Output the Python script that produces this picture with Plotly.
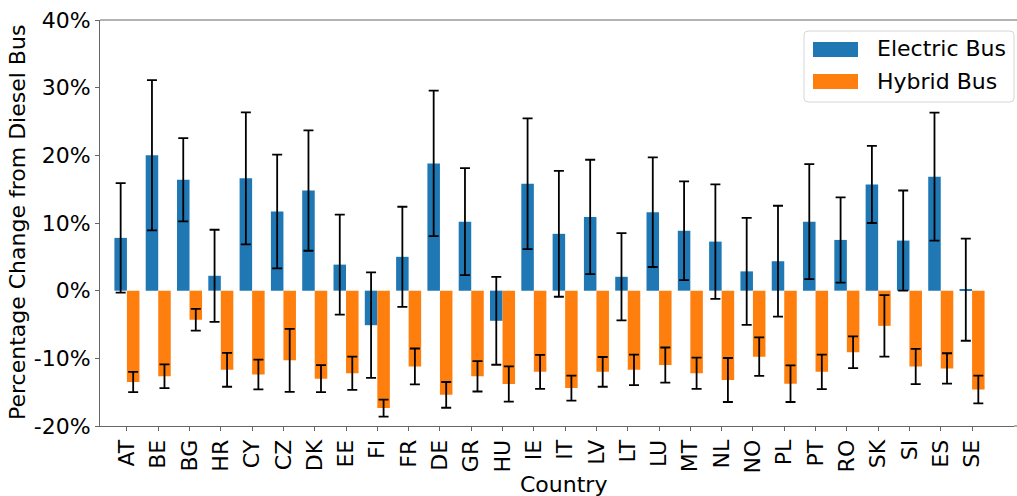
import plotly.graph_objects as go

# Percentage change in cost relative to a diesel bus, per country
countries = ["AT", "BE", "BG", "HR", "CY", "CZ", "DK", "EE", "FI", "FR", "DE", "GR",
             "HU", "IE", "IT", "LV", "LT", "LU", "MT", "NL", "NO", "PL", "PT", "RO",
             "SK", "SI", "ES", "SE"]
electric = [7.8, 20.0, 16.4, 2.2, 16.6, 11.7, 14.8, 3.85, -5.1, 5.0, 18.8, 10.2,
            -4.45, 15.8, 8.4, 10.9, 2.05, 11.6, 8.85, 7.25, 2.85, 4.35, 10.2, 7.5,
            15.7, 7.4, 16.85, 0.15]
electric_err = [8.1, 11.1, 6.15, 6.8, 9.75, 8.4, 8.9, 7.4, 7.8, 7.4, 10.75, 7.9,
                6.5, 9.65, 9.3, 8.45, 6.45, 8.1, 7.3, 8.45, 7.9, 8.2, 8.5, 6.3,
                5.7, 7.4, 9.45, 7.55]
hybrid = [-13.5, -12.65, -4.3, -11.7, -12.4, -10.3, -13.0, -12.2, -17.35, -11.2, -15.4, -12.65,
          -13.8, -12.0, -14.4, -12.0, -11.7, -11.0, -12.2, -13.2, -9.75, -13.75, -12.0, -9.1,
          -5.2, -11.2, -11.5, -14.6]
hybrid_err = [1.5, 1.75, 1.6, 2.5, 2.2, 4.65, 2.0, 2.45, 1.25, 2.65, 1.9, 2.25,
              2.6, 2.5, 1.85, 2.2, 2.25, 2.6, 2.3, 3.25, 2.85, 2.7, 2.55, 2.35,
              4.55, 2.6, 2.25, 2.05]

y_tick_vals = [-20, -10, 0, 10, 20, 30, 40]
y_tick_text = ["-20%", "-10%", "0%", "10%", "20%", "30%", "40%"]

series_names = ["Electric Bus", "Hybrid Bus"]
BLUE = "#1f77b4"
ORANGE = "#ff7f0e"
SPINE = "#666666"
FONT = "DejaVu Sans"
FS = 22

W, H = 1017, 496
ML, MR, MT, MB = 100, 3, 20, 70
PW, PH = W - ML - MR, H - MT - MB


def px_x(px):
    return (px - ML) / PW


def px_y(py):
    return (H - MB - py) / PH


def rounded_box(x0, y0, x1, y1, r):
    """SVG path (paper coords) for a rectangle with rounded corners, given in pixels."""
    pts = [
        f"M{px_x(x0 + r)},{px_y(y0)}",
        f"L{px_x(x1 - r)},{px_y(y0)}",
        f"Q{px_x(x1)},{px_y(y0)} {px_x(x1)},{px_y(y0 + r)}",
        f"L{px_x(x1)},{px_y(y1 - r)}",
        f"Q{px_x(x1)},{px_y(y1)} {px_x(x1 - r)},{px_y(y1)}",
        f"L{px_x(x0 + r)},{px_y(y1)}",
        f"Q{px_x(x0)},{px_y(y1)} {px_x(x0)},{px_y(y1 - r)}",
        f"L{px_x(x0)},{px_y(y0 + r)}",
        f"Q{px_x(x0)},{px_y(y0)} {px_x(x0 + r)},{px_y(y0)}",
        "Z",
    ]
    return " ".join(pts)


err_style = dict(type="data", color="black", thickness=1.8, width=5, visible=True)

fig = go.Figure()
fig.add_trace(go.Bar(x=countries, y=electric, name=series_names[0], marker_color=BLUE,
                     marker_line_width=0, error_y=dict(array=electric_err, **err_style)))
fig.add_trace(go.Bar(x=countries, y=hybrid, name=series_names[1], marker_color=ORANGE,
                     marker_line_width=0, error_y=dict(array=hybrid_err, **err_style)))

shapes = [
    # top border of the axes box, running out to the page edge (no right border)
    dict(type="line", xref="paper", yref="paper", x0=0, x1=px_x(W), y0=1, y1=1,
         line=dict(color=SPINE, width=1)),
    dict(type="line", xref="paper", yref="paper", x0=1, x1=px_x(W), y0=0, y1=0,
         line=dict(color=SPINE, width=1)),
    # legend frame and swatches
    dict(type="path", xref="paper", yref="paper", path=rounded_box(804, 31, 1014, 102, 4),
         line=dict(color="#d6d6d6", width=1), fillcolor="rgba(255,255,255,0.85)", layer="above"),
    dict(type="rect", xref="paper", yref="paper",
         x0=px_x(813), x1=px_x(858), y0=px_y(57), y1=px_y(42),
         line=dict(width=0), fillcolor=BLUE, layer="above"),
    dict(type="rect", xref="paper", yref="paper",
         x0=px_x(813), x1=px_x(858), y0=px_y(89), y1=px_y(74),
         line=dict(width=0), fillcolor=ORANGE, layer="above"),
]
annotations = [
    dict(text=series_names[0], xref="paper", yref="paper", x=px_x(875), y=px_y(49),
         xanchor="left", yanchor="middle", showarrow=False, font=dict(size=FS, family=FONT, color="black")),
    dict(text=series_names[1], xref="paper", yref="paper", x=px_x(875), y=px_y(81),
         xanchor="left", yanchor="middle", showarrow=False, font=dict(size=FS, family=FONT, color="black")),
    dict(text="Percentage Change from Diesel Bus", xref="paper", yref="paper",
         x=px_x(17), y=0.5, textangle=-90, xanchor="center", yanchor="middle",
         showarrow=False, font=dict(size=FS, family=FONT, color="black")),
    dict(text="Country", xref="paper", yref="paper", x=px_x(563), y=px_y(484),
         xanchor="center", yanchor="middle", showarrow=False,
         font=dict(size=FS, family=FONT, color="black")),
]

fig.update_layout(
    width=W, height=H,
    margin=dict(l=ML, r=MR, t=MT, b=MB, pad=0),
    paper_bgcolor="white", plot_bgcolor="white",
    barmode="group", bargap=0.2, bargroupgap=0,
    showlegend=False,
    font=dict(family=FONT, size=FS, color="black"),
    shapes=shapes, annotations=annotations,
)
fig.update_xaxes(
    range=[-0.86, 28.34], showgrid=False, zeroline=False,
    showline=True, mirror=False, linecolor=SPINE, linewidth=1,
    ticks="outside", ticklen=4, tickcolor=SPINE, tickangle=-90,
    tickfont=dict(size=FS, family=FONT, color="black"), automargin=False,
)
fig.update_yaxes(
    range=[-20, 40], showgrid=False, zeroline=False,
    showline=True, mirror=False, linecolor=SPINE, linewidth=1,
    ticks="outside", ticklen=4, tickcolor=SPINE,
    tickvals=y_tick_vals, ticktext=y_tick_text,
    tickfont=dict(size=FS, family=FONT, color="black"), automargin=False,
)

fig.write_html("out.html")
